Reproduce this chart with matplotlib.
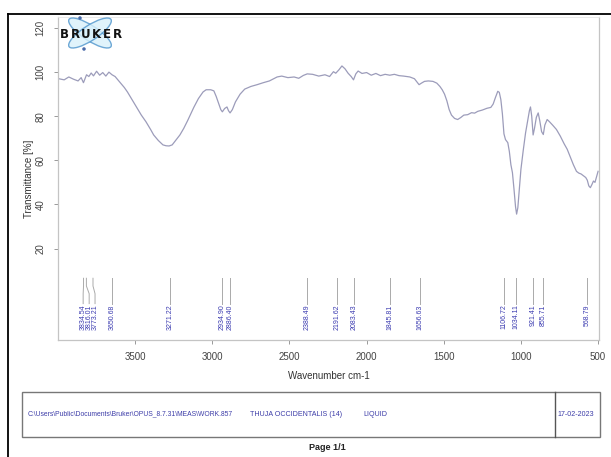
import matplotlib
matplotlib.use("Agg")
import matplotlib.pyplot as plt
from matplotlib.patches import Ellipse, Rectangle
from matplotlib.lines import Line2D

plt.rcParams['font.family'] = ['Liberation Sans', 'DejaVu Sans']

# IR spectrum (wavenumber in cm-1, transmittance in %)
wavenumber = [3995, 3960, 3930, 3900, 3870, 3850, 3835, 3815, 3800, 3785, 3770,
              3750, 3730, 3710, 3690, 3670, 3650, 3630, 3600, 3570, 3550,
              3520, 3490, 3460, 3430, 3400, 3380, 3350, 3320, 3300, 3280,
              3260, 3240, 3210, 3185, 3160, 3120, 3090, 3060, 3040, 3010,
              2990, 2975, 2960, 2945, 2935, 2920, 2905, 2895, 2885, 2870,
              2850, 2820, 2790, 2750, 2710, 2670, 2630, 2580, 2550, 2510,
              2470, 2440, 2410, 2385, 2350, 2310, 2270, 2240, 2215, 2200,
              2180, 2160, 2140, 2120, 2100, 2085, 2070, 2055, 2030, 2000,
              1970, 1940, 1910, 1880, 1850, 1820, 1790, 1760, 1720, 1690,
              1670, 1660, 1645, 1625, 1600, 1570, 1545, 1525, 1510, 1495,
              1480, 1465, 1450, 1430, 1410, 1390, 1370, 1345, 1320, 1300,
              1280, 1250, 1220, 1195, 1180, 1165, 1150, 1140, 1130, 1120,
              1110, 1100, 1085, 1075, 1065, 1055, 1045, 1035, 1028, 1020,
              1010, 1000, 985, 970, 955, 945, 938, 930, 921, 912, 900,
              888, 878, 866, 855, 845, 830, 815, 795, 770, 745, 720, 700,
              680, 660, 640, 625, 610, 595, 580, 570, 560, 550, 540, 530,
              520, 510, 500]
transmittance = [97.0, 96.5, 97.8, 96.8, 96.0, 97.5, 95.2, 98.8, 98.0, 99.6, 98.3,
                 100.4, 98.6, 99.8, 98.2, 100.0, 98.8, 98.0, 95.5, 93.0, 91.0,
                 87.5, 84.0, 80.5, 77.5, 74.0, 71.5, 69.0, 67.0, 66.6, 66.5,
                 67.0, 68.8, 71.5, 74.5, 78.0, 84.0, 88.0, 91.0, 92.0, 92.0,
                 91.5, 89.0, 86.0, 83.0, 82.0, 83.5, 84.2, 82.5, 81.5, 83.0,
                 86.5, 90.0, 92.3, 93.5, 94.3, 95.2, 96.0, 97.8, 98.2, 97.5,
                 97.8, 97.2, 98.5, 99.2, 99.0, 98.2, 98.8, 98.0, 100.2, 99.5,
                 101.0, 102.8, 101.5, 99.5, 98.0, 96.5, 99.2, 100.5, 99.4, 99.8,
                 98.6, 99.4, 98.4, 99.0, 98.6, 99.0, 98.4, 98.2, 97.8, 97.0,
                 95.2, 94.3, 95.0, 95.8, 96.0, 95.8, 95.0, 93.5, 92.0, 90.0,
                 87.0, 83.0, 80.5, 79.0, 78.5, 79.4, 80.5, 80.7, 81.6, 81.4,
                 82.2, 82.8, 83.6, 84.0, 85.5, 88.5, 91.3, 90.8, 87.5, 81.0,
                 72.0, 69.4, 68.0, 64.0, 58.0, 54.4, 47.0, 39.0, 35.6, 38.5,
                 47.0, 55.9, 64.5, 72.4, 78.5, 82.5, 84.2, 80.0, 71.5, 74.5, 79.5,
                 81.5, 78.0, 73.0, 71.7, 76.0, 78.5, 77.5, 76.0, 74.0, 71.0, 67.5, 65.0,
                 61.5, 58.0, 55.0, 54.2, 53.8, 53.0, 52.2, 51.0, 48.4, 47.6, 49.0, 50.6,
                 50.0, 52.5, 55.0]

# Picked peaks
peak_positions = [3834.54, 3816.01, 3773.21, 3650.68, 3271.22, 2934.90, 2886.40,
                  2388.49, 2191.62, 2083.43, 1845.81, 1656.63, 1106.72, 1034.11,
                  921.41, 855.71, 568.79]
peak_labels = ["3834.54", "3816.01", "3773.21", "3650.68", "3271.22", "2934.90",
               "2886.40", "2388.49", "2191.62", "2083.43", "1845.81", "1656.63",
               "1106.72", "1034.11", "921.41", "855.71", "568.79"]
# label positions for crowded peaks (shifted apart)
peak_label_positions = [3837.0, 3798.0, 3760.0, 3650.68, 3271.22, 2934.90, 2886.40,
                        2388.49, 2191.62, 2083.43, 1845.81, 1656.63, 1106.72, 1034.11,
                        921.41, 855.71, 568.79]

x_ticks = [3500, 3000, 2500, 2000, 1500, 1000, 500]
y_ticks = [20, 40, 60, 80, 100, 120]

W, H = 611, 457
fig = plt.figure(figsize=(W / 100, H / 100), dpi=100)

ax = fig.add_axes([58 / W, 1 - 340 / H, 541 / W, 323 / H])
ax.plot(wavenumber, transmittance, color='#9c9cba', lw=0.9)
ax.set_xlim(4000, 494)
ax.set_ylim(-21.5, 125)

ax.set_xticks(x_ticks)
ax.set_xticklabels([str(v) for v in x_ticks])
ax.set_yticks(y_ticks)
ax.set_yticklabels([str(v) for v in y_ticks], rotation=90, va='center')
ax.tick_params(axis='both', direction='out', length=3, width=0.7,
               colors='#999999', labelcolor='#444444', labelsize=7)
ax.tick_params(axis='x', pad=6)
ax.tick_params(axis='y', pad=6)
for side in ['left', 'bottom', 'right']:
    ax.spines[side].set_color('#c4c4c4')
    ax.spines[side].set_linewidth(0.9)
ax.spines['top'].set_color('#e6e6e6')
ax.spines['top'].set_linewidth(0.6)

ax.set_xlabel('Wavenumber cm-1', fontsize=7, color='#333333', labelpad=6)
ax.set_ylabel('Transmittance [%]', fontsize=7, color='#333333', labelpad=1)

# peak markers and labels
for pos, lpos, lab in zip(peak_positions, peak_label_positions, peak_labels):
    if abs(pos - lpos) > 1:
        ax.plot([pos, pos, lpos, lpos], [6.5, 3.0, -0.5, -5.0],
                color='#aaaaaa', lw=0.7)
    else:
        ax.plot([pos, pos], [6.5, -5.0], color='#aaaaaa', lw=0.7)
    ax.text(lpos, -5.4, lab, rotation=90, ha='center', va='top',
            fontsize=5.0, color='#3a3ab0')

# logo drawn in pixel units on its own axes
lx0, ly0, lx1, ly1 = 56, 14, 124, 54
lax = fig.add_axes([lx0 / W, 1 - ly1 / H, (lx1 - lx0) / W, (ly1 - ly0) / H])
lax.set_xlim(lx0, lx1)
lax.set_ylim(ly1, ly0)
lax.axis('off')
for ang in (33, -33):
    lax.add_patch(Ellipse((90, 33), 50, 15, angle=ang, facecolor='#d9f1fb',
                          edgecolor='#4d94cc', lw=1.0, alpha=0.8))
for (cx, cy) in [(80, 18), (84, 49)]:
    lax.add_patch(Ellipse((cx, cy), 3.5, 3.5, facecolor='#4a6aa8', edgecolor='none'))
for i, ch in enumerate('BRUKER'):
    lax.text(60 + i * 10.6, 34, ch, fontsize=8.5, fontweight='bold', color='#111111',
             ha='left', va='center', family='DejaVu Sans')

# page frame
fig.add_artist(Line2D([8 / W, 8 / W], [0, 1 - 14 / H], transform=fig.transFigure,
                      color='black', lw=1.3))
fig.add_artist(Line2D([8 / W, 1], [1 - 14 / H, 1 - 14 / H], transform=fig.transFigure,
                      color='black', lw=1.3))


def px(x, y):
    return (x / W, 1 - y / H)


# info box
fig.add_artist(Rectangle(px(22, 437), (600 - 22) / W, (437 - 392) / H,
                         transform=fig.transFigure, facecolor='none',
                         edgecolor='#777777', lw=1.0))
fig.add_artist(Line2D([555 / W, 555 / W], [1 - 437 / H, 1 - 392 / H],
                      transform=fig.transFigure, color='#555555', lw=1.0))
info_color = '#3c3ca8'
fig.text(*px(28, 414), r'C:\Users\Public\Documents\Bruker\OPUS_8.7.31\MEAS\WORK.857',
         fontsize=4.9, color=info_color, ha='left', va='center')
fig.text(*px(250, 414), 'THUJA OCCIDENTALIS (14)', fontsize=5.1, color=info_color,
         ha='left', va='center')
fig.text(*px(363, 414), 'LIQUID', fontsize=5.1, color=info_color, ha='left', va='center')
fig.text(*px(558, 414), '17-02-2023', fontsize=5.1, color=info_color, ha='left',
         va='center')
fig.text(*px(327, 448), 'Page 1/1', fontsize=6.5, fontweight='bold', color='#222222',
         ha='center', va='center')

fig.savefig('out.png', dpi=100)
